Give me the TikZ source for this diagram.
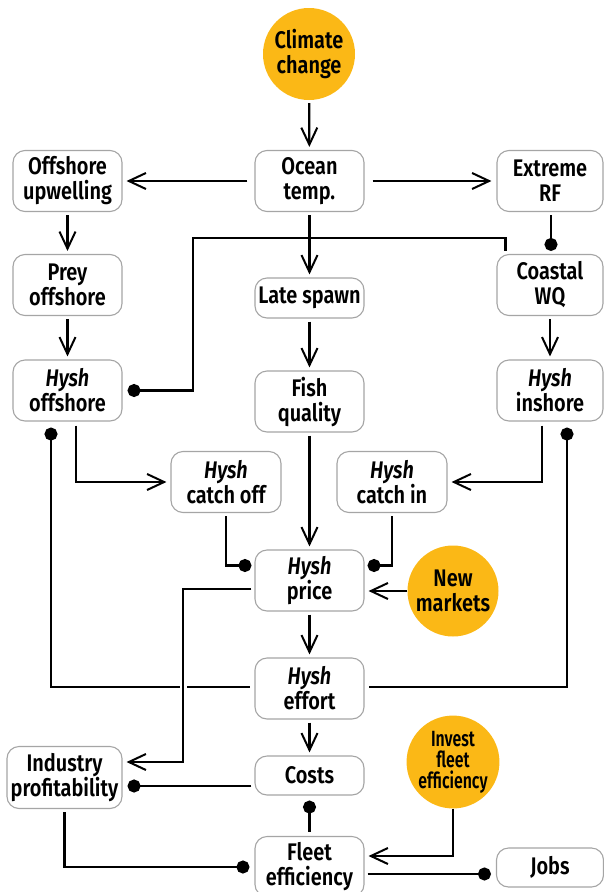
\documentclass[tikz,border=0pt]{standalone}
\usepackage{fontspec}
\setmainfont{Fira Sans}[UprightFont=* SemiBold, ItalicFont=* SemiBold Italic, FakeStretch=0.83]
\newfontfamily\narrowfont{Fira Sans}[UprightFont=* SemiBold, FakeStretch=0.72]
\usetikzlibrary{arrows.meta}
\definecolor{boxgray}{RGB}{165,165,165}
\definecolor{gold}{RGB}{251,184,22}
\tikzset{
  box/.style={draw=boxgray, line width=1.1pt, rounded corners=12pt, fill=white,
    align=center, inner sep=0pt, minimum width=109pt, minimum height=61pt,
    font=\fontsize{24}{25}\selectfont},
  bubble/.style={circle, fill=gold, align=center, inner sep=0pt, minimum size=92pt,
    font=\fontsize{24}{25}\selectfont},
  conn/.style={line width=2.3pt},
  arr/.style={conn, -{Straight Barb[length=17pt,width=16pt,line width=2pt]}},
  dot/.style={conn, -{Circle[length=13pt]}},
  dotstart/.style={conn, {Circle[length=13pt]}-},
}
\begin{document}
\begin{tikzpicture}[x=1pt,y=-1pt]
\useasboundingbox (0,0) rectangle (604,892);

% drivers and boxes
\node[bubble] (climate) at (309,54) {Climate\\change};
\node[box] (ocean) at (309.5,181) {Ocean\\temp.};
\node[box] (upw) at (67.5,181) {Offshore\\upwelling};
\node[box, minimum width=106pt] (rf) at (550,181) {Extreme\\RF};
\node[box] (prey) at (67.5,285) {Prey\\offshore};
\node[box, minimum width=106pt] (wq) at (550,285) {Coastal\\WQ};
\node[box, minimum height=40pt] (spawn) at (309.5,298) {Late spawn};
\node[box] (hoff) at (67.5,390.5) {\textit{Hysh}\\offshore};
\node[box] (fish) at (309.5,401.5) {Fish\\quality};
\node[box, minimum width=106pt] (hin) at (550,390.5) {\textit{Hysh}\\inshore};
\node[box, minimum width=110pt] (coff) at (226,482) {\textit{Hysh}\\catch off};
\node[box, minimum width=110pt] (cin) at (392,482) {\textit{Hysh}\\catch in};
\node[box] (price) at (309.5,580.5) {\textit{Hysh}\\price};
\node[bubble, minimum size=91pt] (newm) at (453,591) {New\\markets};
\node[box] (effort) at (309.5,688.5) {\textit{Hysh}\\effort};
\node[bubble, font=\narrowfont\fontsize{22}{21}\selectfont] (invest) at (453,762) {Invest\\fleet\\efficiency};
\node[box, minimum width=115pt, minimum height=62pt] (ind) at (64.5,777.5) {Industry\\profitability};
\node[box, minimum height=39pt] (costs) at (309.5,775.5) {Costs};
\node[box, minimum height=60pt] (fleet) at (309.5,866.5) {Fleet\\efficiency};
\node[box, minimum width=107pt, minimum height=39pt] (jobs) at (550,867.5) {Jobs};

% top tier
\draw[arr, shorten <=3pt, shorten >=3pt] (climate) -- (ocean);
\draw[arr, shorten <=7pt, shorten >=4pt] (ocean.west) -- (upw.east);
\draw[arr, shorten <=8pt, shorten >=5pt] (ocean.east) -- (rf.west);
\draw[arr, shorten <=3pt, shorten >=3pt] (ocean.south) -- (spawn.north);
\draw[arr, shorten <=3pt, shorten >=3pt] (upw) -- (prey);
\draw[arr, shorten <=3pt, shorten >=3pt] (prey) -- (hoff);
\draw[dot, shorten <=3pt, shorten >=3pt] ([xshift=1pt]rf.south) -- ([xshift=1pt]wq.north);
\draw[dot, shorten >=5pt] ([xshift=9pt,yshift=3pt]wq.north west) |- (193,238) |- (hoff.east);
\draw[arr, shorten <=3pt, shorten >=3pt] (spawn) -- (fish);
\draw[arr, shorten <=3pt, shorten >=3pt] (wq) -- (hin);

% catches and price
\draw[arr, shorten <=4pt, shorten >=4pt] ([xshift=8.5pt]hoff.south) |- (coff.west);
\draw[arr, shorten <=4pt, shorten >=4pt] ([xshift=-8pt]hin.south) |- (cin.east);
\draw[arr, shorten <=3pt, shorten >=3pt] (fish) -- (price);
\draw[dot, shorten <=3pt, shorten >=3pt] (coff.south) |- ([yshift=15pt]price.west);
\draw[dot, shorten <=3pt, shorten >=3pt] (cin.south) |- ([yshift=15pt]price.east);
\draw[arr, shorten >=4pt] (newm.west) -- ([yshift=-10.5pt]price.east);
\draw[arr, shorten <=3pt, shorten >=3pt] (price) -- (effort);

% feedback from effort to stocks
\draw[dotstart, shorten <=6pt, shorten >=4pt] ([xshift=-16.5pt]hoff.south) |- ([yshift=1.5pt]effort.west);
\draw[dotstart, shorten <=6pt, shorten >=4pt] ([xshift=17pt]hin.south) |- ([yshift=1.5pt]effort.east);

% price to profitability, passing over the effort loop
\draw[white, line width=7pt] (183,680) -- (183,692);
\draw[arr, shorten <=3pt, shorten >=4pt] ([yshift=-8.5pt]price.west) -| (183,700) |- ([yshift=15.5pt]ind.east);

% costs and fleet
\draw[arr, shorten <=3pt, shorten >=3pt] (effort) -- (costs);
\draw[dot, shorten <=3pt, shorten >=5pt] ([yshift=-10.5pt]costs.west) -- ([yshift=-8.5pt]ind.east);
\draw[dot, shorten <=4pt, shorten >=5pt] (fleet.north) -- (costs.south);
\draw[dot, shorten <=3pt, shorten >=5pt] (ind.south) |- ([yshift=-0.5pt]fleet.west);
\draw[arr, shorten >=4pt] (invest.south) |- ([yshift=10.5pt]fleet.east);
\draw[dot, shorten <=3pt, shorten >=5pt] ([yshift=-7.5pt]fleet.east) -- ([yshift=-6.5pt]jobs.west);
\end{tikzpicture}
\end{document}
